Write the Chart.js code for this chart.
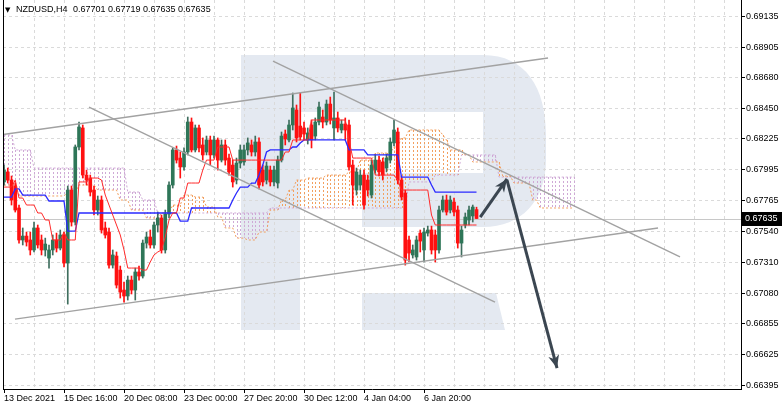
<!DOCTYPE html>
<html>
<head>
<meta charset="utf-8">
<title>NZDUSD H4</title>
<script src="https://cdn.jsdelivr.net/npm/chart.js@4.4.1/dist/chart.umd.min.js"></script>
<style>
  html, body { margin: 0; padding: 0; background: #fff; }
  #chart { display: block; }
</style>
</head>
<body>
<canvas id="chart" width="782" height="408"></canvas>
<script>
const symbolTitle = "NZDUSD,H4";
const lastBarText = ["0.67701", "0.67719", "0.67635", "0.67635"];

const timeLabels = ["13 Dec 2021", "15 Dec 16:00", "20 Dec 08:00", "23 Dec 00:00",
  "27 Dec 20:00", "30 Dec 12:00", "4 Jan 04:00", "6 Jan 20:00"];
const priceTicks = [0.69135, 0.68905, 0.68680, 0.68450, 0.68225, 0.67995, 0.67765,
  0.67540, 0.67310, 0.67080, 0.66855, 0.66625, 0.66395];

const opens = [
  0.67906, 0.67980, 0.67920, 0.67876, 0.67713, 0.67476, 0.67505, 0.67476, 0.67402, 0.67565,
  0.67476, 0.67402, 0.67342, 0.67402, 0.67476, 0.67416, 0.67513, 0.67305, 0.67846, 0.67609,
  0.68165, 0.68306, 0.67957, 0.67935, 0.67846, 0.67698, 0.67772, 0.67565, 0.67535, 0.67290,
  0.67357, 0.67253, 0.67105, 0.67061, 0.67179, 0.67105, 0.67239, 0.67209, 0.67453, 0.67498,
  0.67439, 0.67587, 0.67639, 0.67402, 0.67668, 0.67883, 0.68143, 0.68083, 0.68017, 0.68128,
  0.68350, 0.68143, 0.68306, 0.68180, 0.68128, 0.68217, 0.68106, 0.68217, 0.68068, 0.68180,
  0.68083, 0.68031, 0.67920, 0.68046, 0.68054, 0.68143, 0.68180, 0.68128, 0.68202, 0.67994,
  0.67920, 0.67994, 0.67906, 0.67898, 0.68068, 0.68261, 0.68217, 0.68328, 0.68439, 0.68320,
  0.68306, 0.68217, 0.68328, 0.68246, 0.68350, 0.68387, 0.68350, 0.68483, 0.68306, 0.68380,
  0.68291, 0.68335, 0.68328, 0.68031, 0.67846, 0.67883, 0.67957, 0.67920, 0.67809, 0.67994,
  0.68068, 0.68054, 0.68009, 0.68068, 0.68195, 0.68276, 0.67920, 0.67824, 0.67476, 0.67365,
  0.67350, 0.67527, 0.67402, 0.67527, 0.67550, 0.67513, 0.67402, 0.67698, 0.67772, 0.67698,
  0.67757, 0.67698, 0.67453, 0.67587, 0.67624, 0.67654, 0.67701];
const highs = [
  0.68031, 0.68009, 0.67950, 0.67898, 0.67735, 0.67565, 0.67535, 0.67535, 0.67609, 0.67587,
  0.67513, 0.67490, 0.67439, 0.67513, 0.67527, 0.67550, 0.67535, 0.67876, 0.67876, 0.68180,
  0.68350, 0.68328, 0.67994, 0.67957, 0.67876, 0.67802, 0.67802, 0.67609, 0.67565, 0.67402,
  0.67387, 0.67283, 0.67164, 0.67209, 0.67209, 0.67268, 0.67283, 0.67476, 0.67535, 0.67550,
  0.67609, 0.67683, 0.67661, 0.67698, 0.67906, 0.68158, 0.68172, 0.68128, 0.68158, 0.68387,
  0.68380, 0.68328, 0.68328, 0.68232, 0.68246, 0.68246, 0.68246, 0.68232, 0.68217, 0.68217,
  0.68113, 0.68068, 0.68083, 0.68180, 0.68180, 0.68232, 0.68217, 0.68246, 0.68232, 0.68031,
  0.68054, 0.68024, 0.68024, 0.68098, 0.68276, 0.68291, 0.68365, 0.68565, 0.68476, 0.68565,
  0.68350, 0.68306, 0.68365, 0.68380, 0.68498, 0.68439, 0.68513, 0.68535, 0.68572, 0.68424,
  0.68365, 0.68380, 0.68365, 0.68068, 0.68009, 0.67994, 0.67994, 0.67957, 0.68068, 0.68106,
  0.68098, 0.68083, 0.68113, 0.68232, 0.68365, 0.68306, 0.67950, 0.67846, 0.67505, 0.67439,
  0.67505, 0.67550, 0.67565, 0.67579, 0.67579, 0.67550, 0.67728, 0.67802, 0.67809, 0.67802,
  0.67787, 0.67728, 0.67579, 0.67676, 0.67728, 0.67735, 0.67719];
const lows = [
  0.67883, 0.67898, 0.67735, 0.67683, 0.67453, 0.67439, 0.67431, 0.67365, 0.67387, 0.67416,
  0.67365, 0.67357, 0.67268, 0.67365, 0.67387, 0.67402, 0.67276, 0.67001, 0.67579, 0.67587,
  0.68143, 0.67935, 0.67883, 0.67802, 0.67661, 0.67661, 0.67527, 0.67490, 0.67268, 0.67268,
  0.67120, 0.67046, 0.67016, 0.67031, 0.67076, 0.67031, 0.67179, 0.67194, 0.67416, 0.67416,
  0.67416, 0.67535, 0.67379, 0.67379, 0.67639, 0.67861, 0.68046, 0.67935, 0.67994, 0.68106,
  0.68128, 0.68128, 0.68128, 0.68068, 0.68106, 0.68031, 0.68083, 0.67994, 0.68054, 0.68031,
  0.67957, 0.67868, 0.67891, 0.68009, 0.68031, 0.68106, 0.68098, 0.68098, 0.67854, 0.67876,
  0.67891, 0.67876, 0.67876, 0.67861, 0.68054, 0.68180, 0.68202, 0.68291, 0.68202, 0.68217,
  0.68217, 0.68187, 0.68158, 0.68217, 0.68328, 0.68306, 0.68328, 0.68335, 0.68217, 0.68276,
  0.68269, 0.68217, 0.67994, 0.67735, 0.67809, 0.67846, 0.67705, 0.67802, 0.67787, 0.67972,
  0.67950, 0.67920, 0.67980, 0.68046, 0.68172, 0.67891, 0.67772, 0.67290, 0.67313, 0.67342,
  0.67327, 0.67387, 0.67313, 0.67505, 0.67372, 0.67313, 0.67379, 0.67683, 0.67661, 0.67676,
  0.67654, 0.67416, 0.67350, 0.67565, 0.67587, 0.67609, 0.67635];
const closes = [
  0.67994, 0.67920, 0.67772, 0.67698, 0.67476, 0.67505, 0.67461, 0.67402, 0.67565, 0.67439,
  0.67402, 0.67446, 0.67402, 0.67476, 0.67416, 0.67513, 0.67305, 0.67846, 0.67609, 0.68165,
  0.68313, 0.67957, 0.67920, 0.67831, 0.67698, 0.67772, 0.67550, 0.67513, 0.67290, 0.67365,
  0.67142, 0.67090, 0.67061, 0.67179, 0.67105, 0.67239, 0.67209, 0.67453, 0.67498, 0.67439,
  0.67587, 0.67639, 0.67402, 0.67668, 0.67883, 0.68143, 0.68068, 0.68017, 0.68128, 0.68350,
  0.68143, 0.68306, 0.68158, 0.68106, 0.68217, 0.68106, 0.68217, 0.68068, 0.68180, 0.68068,
  0.67980, 0.67906, 0.68046, 0.68143, 0.68143, 0.68195, 0.68128, 0.68202, 0.67883, 0.67906,
  0.68024, 0.67906, 0.67994, 0.68068, 0.68246, 0.68224, 0.68328, 0.68454, 0.68232, 0.68239,
  0.68261, 0.68269, 0.68217, 0.68350, 0.68461, 0.68350, 0.68483, 0.68365, 0.68380, 0.68306,
  0.68335, 0.68291, 0.68017, 0.67883, 0.67980, 0.67957, 0.67735, 0.67846, 0.68031, 0.68068,
  0.67980, 0.67957, 0.68083, 0.68202, 0.68291, 0.67920, 0.67794, 0.67327, 0.67379, 0.67402,
  0.67476, 0.67468, 0.67535, 0.67550, 0.67402, 0.67402, 0.67698, 0.67772, 0.67683, 0.67772,
  0.67683, 0.67453, 0.67550, 0.67646, 0.67698, 0.67720, 0.67635];

const tenkan = [
  0.67868, 0.67868, 0.67868, 0.67920, 0.67787, 0.67787, 0.67735, 0.67735, 0.67735, 0.67676,
  0.67676, 0.67624, 0.67624, 0.67476, 0.67476, 0.67476, 0.67535, 0.67476, 0.67476, 0.67476,
  0.67906, 0.67906, 0.67906, 0.67935, 0.67935, 0.67935, 0.67920, 0.67809, 0.67735, 0.67661,
  0.67587, 0.67513, 0.67402, 0.67268, 0.67268, 0.67268, 0.67268, 0.67253, 0.67253, 0.67313,
  0.67365, 0.67387, 0.67402, 0.67498, 0.67624, 0.67676, 0.67676, 0.67787, 0.67787, 0.67898,
  0.67898, 0.67898, 0.67898, 0.67994, 0.68068, 0.68068, 0.68068, 0.68165, 0.68165, 0.68165,
  0.68165, 0.68068, 0.68068, 0.68068, 0.68068, 0.68068, 0.68068, 0.68068, 0.68068, 0.68068,
  0.68068, 0.68068, 0.68068, 0.68068, 0.68068, 0.68128, 0.68128, 0.68217, 0.68217, 0.68217,
  0.68217, 0.68217, 0.68365, 0.68365, 0.68365, 0.68365, 0.68365, 0.68365, 0.68365, 0.68365,
  0.68365, 0.68365, 0.68217, 0.68083, 0.68083, 0.68083, 0.68083, 0.68083, 0.68083, 0.67957,
  0.67957, 0.67957, 0.67957, 0.67957, 0.67957, 0.67920, 0.67846, 0.67846, 0.67846, 0.67846,
  0.67846, 0.67846, 0.67846, 0.67846, 0.67661, 0.67587, 0.67587, 0.67587, 0.67587, 0.67587,
  0.67587, 0.67587, 0.67587, 0.67587, 0.67587, 0.67587, 0.67587];
const kijun = [
  0.67794, 0.67794, 0.67794, 0.67854, 0.67854, 0.67809, 0.67809, 0.67809, 0.67809, 0.67809,
  0.67809, 0.67809, 0.67765, 0.67765, 0.67765, 0.67765, 0.67765, 0.67542, 0.67542, 0.67542,
  0.67676, 0.67676, 0.67676, 0.67676, 0.67676, 0.67676, 0.67676, 0.67676, 0.67676, 0.67676,
  0.67676, 0.67676, 0.67676, 0.67676, 0.67676, 0.67676, 0.67676, 0.67676, 0.67676, 0.67676,
  0.67676, 0.67676, 0.67676, 0.67676, 0.67676, 0.67676, 0.67676, 0.67616, 0.67616, 0.67616,
  0.67713, 0.67713, 0.67713, 0.67713, 0.67713, 0.67713, 0.67713, 0.67713, 0.67713, 0.67713,
  0.67713, 0.67772, 0.67824, 0.67868, 0.67868, 0.67868, 0.67898, 0.67898, 0.67957, 0.68031,
  0.68128, 0.68143, 0.68143, 0.68143, 0.68143, 0.68143, 0.68143, 0.68165, 0.68165, 0.68195,
  0.68217, 0.68217, 0.68217, 0.68217, 0.68217, 0.68217, 0.68217, 0.68217, 0.68217, 0.68217,
  0.68217, 0.68217, 0.68143, 0.68143, 0.68143, 0.68143, 0.68143, 0.68106, 0.68106, 0.68106,
  0.68106, 0.68106, 0.68106, 0.68106, 0.68106, 0.68106, 0.67942, 0.67942, 0.67942, 0.67942,
  0.67942, 0.67942, 0.67942, 0.67942, 0.67883, 0.67831, 0.67831, 0.67831, 0.67831, 0.67831,
  0.67831, 0.67831, 0.67831, 0.67831, 0.67831, 0.67831, 0.67831];
// cloud runs 26 bars past the last candle
const senkouA = [
  0.67883, 0.67883, 0.67883, 0.67883, 0.67802, 0.67802, 0.67802, 0.67802, 0.67802, 0.67802,
  0.67802, 0.67802, 0.67802, 0.67802, 0.67802, 0.67802, 0.67802, 0.67831, 0.67831, 0.67831,
  0.67883, 0.67883, 0.67883, 0.67883, 0.67883, 0.67846, 0.67846, 0.67846, 0.67846, 0.67846,
  0.67846, 0.67772, 0.67772, 0.67772, 0.67698, 0.67698, 0.67698, 0.67698, 0.67639, 0.67639,
  0.67639, 0.67639, 0.67676, 0.67676, 0.67676, 0.67735, 0.67735, 0.67735, 0.67809, 0.67809,
  0.67809, 0.67794, 0.67794, 0.67794, 0.67720, 0.67720, 0.67720, 0.67646, 0.67646, 0.67565,
  0.67565, 0.67565, 0.67490, 0.67490, 0.67490, 0.67476, 0.67476, 0.67476, 0.67535, 0.67535,
  0.67535, 0.67698, 0.67698, 0.67698, 0.67772, 0.67772, 0.67846, 0.67846, 0.67920, 0.67920,
  0.67920, 0.67935, 0.67935, 0.67935, 0.67935, 0.67935, 0.67957, 0.67957, 0.67957, 0.67957,
  0.67957, 0.67957, 0.67980, 0.67980, 0.67980, 0.68068, 0.68068, 0.68068, 0.68068, 0.68120,
  0.68120, 0.68120, 0.68120, 0.68120, 0.68165, 0.68165, 0.68232, 0.68232, 0.68291, 0.68291,
  0.68291, 0.68291, 0.68291, 0.68291, 0.68291, 0.68291, 0.68291, 0.68254, 0.68217, 0.68143,
  0.68143, 0.68143, 0.68143, 0.68106, 0.68106, 0.68054, 0.68054, 0.68054, 0.68054, 0.68054,
  0.68054, 0.68054, 0.68054, 0.67950, 0.67950, 0.67950, 0.67898, 0.67898, 0.67898, 0.67898,
  0.67898, 0.67772, 0.67772, 0.67713, 0.67713, 0.67713, 0.67713, 0.67713, 0.67713, 0.67713,
  0.67713, 0.67713, 0.67713];
const senkouB = [
  0.68254, 0.68254, 0.68254, 0.68143, 0.68143, 0.68143, 0.68143, 0.68143, 0.68009, 0.68009,
  0.68009, 0.68009, 0.68009, 0.68009, 0.68009, 0.68009, 0.68009, 0.68009, 0.68009, 0.68009,
  0.68009, 0.68009, 0.68009, 0.68009, 0.68009, 0.68009, 0.68009, 0.68009, 0.68009, 0.68009,
  0.68009, 0.68009, 0.68009, 0.67831, 0.67831, 0.67831, 0.67831, 0.67772, 0.67772, 0.67772,
  0.67772, 0.67676, 0.67676, 0.67676, 0.67676, 0.67676, 0.67676, 0.67676, 0.67676, 0.67676,
  0.67676, 0.67676, 0.67676, 0.67676, 0.67676, 0.67676, 0.67676, 0.67676, 0.67676, 0.67676,
  0.67676, 0.67676, 0.67676, 0.67676, 0.67676, 0.67676, 0.67676, 0.67676, 0.67676, 0.67676,
  0.67676, 0.67713, 0.67713, 0.67713, 0.67713, 0.67713, 0.67713, 0.67713, 0.67713, 0.67713,
  0.67713, 0.67713, 0.67713, 0.67713, 0.67713, 0.67713, 0.67713, 0.67713, 0.67713, 0.67713,
  0.67713, 0.67713, 0.67713, 0.67713, 0.67713, 0.67713, 0.67713, 0.67713, 0.67713, 0.67713,
  0.67713, 0.67713, 0.67713, 0.67713, 0.67713, 0.67713, 0.67713, 0.67713, 0.67906, 0.67906,
  0.67906, 0.67906, 0.67906, 0.67906, 0.67906, 0.67957, 0.67957, 0.67957, 0.67957, 0.67957,
  0.67957, 0.67957, 0.68106, 0.68106, 0.68106, 0.68106, 0.68106, 0.68106, 0.68106, 0.68106,
  0.68106, 0.68106, 0.67942, 0.67942, 0.67942, 0.67942, 0.67942, 0.67942, 0.67942, 0.67942,
  0.67942, 0.67942, 0.67942, 0.67942, 0.67942, 0.67942, 0.67942, 0.67942, 0.67942, 0.67942,
  0.67942, 0.67942, 0.67942];

// hand drawn objects: [bar, price] end points
const trendLines = [
  [[-0.27, 0.68257], [145.07, 0.68824]],
  [[2.93, 0.66890], [174.4, 0.67565]],
  [[22.67, 0.68461], [130.93, 0.67016]],
  [[71.73, 0.68802], [180.27, 0.67350]]
];
const arrowUp = [[127.0, 0.67646], [134.13, 0.67928]];
const arrowDown = [[134.13, 0.67920], [147.47, 0.66527]];

const xMin = -0.27;
const xMax = 196.53;
const yMin = 0.66372;
const yMax = 0.69254;

const canvas = document.getElementById("chart");

Chart.defaults.font.family = "'Liberation Sans', Arial, sans-serif";
Chart.defaults.font.size = 9;
Chart.defaults.color = "#000";

const bullBody = "#2e7658";
const bullWick = "#3f6e5e";
const bearBody = "#ff1010";
const cloudUpColor = "#f2a060";
const cloudDownColor = "#cfa9d6";
const isBull = closes.map((c, i) => c >= opens[i]);

const logoPlugin = {
  id: "logo",
  beforeDraw(chart) {
    const c = chart.ctx;
    c.save();
    c.fillStyle = "#fff";
    c.fillRect(0, 0, chart.width, chart.height);
    c.fillStyle = "#e4e9f1";
    c.fillRect(241, 55, 59, 275);
    c.beginPath();
    c.moveTo(300, 55);
    c.lineTo(483, 55);
    c.bezierCurveTo(526, 55, 546, 88, 546, 135);
    c.lineTo(546, 160);
    c.bezierCurveTo(546, 200, 522, 227, 483, 227);
    c.lineTo(362, 227);
    c.lineTo(362, 173);
    c.lineTo(483, 173);
    c.lineTo(483, 112);
    c.lineTo(300, 112);
    c.closePath();
    c.fill();
    c.beginPath();
    c.moveTo(362, 293);
    c.lineTo(496, 293);
    c.lineTo(505, 330);
    c.lineTo(362, 330);
    c.closePath();
    c.fill();
    c.restore();
  }
};

// cloud: one dotted vertical stroke per bar between span A and span B
const cloudPlugin = {
  id: "cloud",
  beforeDatasetsDraw(chart) {
    const { ctx: c, chartArea, scales: { x, y } } = chart;
    c.save();
    c.beginPath();
    c.rect(chartArea.left, chartArea.top, chartArea.width, chartArea.height);
    c.clip();
    c.lineWidth = 1;
    c.setLineDash([2, 2]);
    senkouA.forEach((a, i) => {
      const b = senkouB[i];
      const px = Math.round(x.getPixelForValue(i)) + 0.5;
      const ya = Math.round(y.getPixelForValue(a));
      const yb = Math.round(y.getPixelForValue(b));
      if (ya === yb) return;
      c.strokeStyle = a > b ? cloudUpColor : cloudDownColor;
      c.beginPath();
      c.moveTo(px, Math.min(ya, yb));
      c.lineTo(px, Math.max(ya, yb));
      c.stroke();
    });
    c.restore();

    const py = Math.round(y.getPixelForValue(closes[closes.length - 1])) + 0.5;
    c.save();
    c.strokeStyle = "#c8c8c8";
    c.lineWidth = 1;
    c.beginPath();
    c.moveTo(chartArea.left, py);
    c.lineTo(chartArea.right, py);
    c.stroke();
    c.restore();
  }
};

const overlayPlugin = {
  id: "overlay",
  afterDatasetsDraw(chart) {
    const { ctx: c, scales: { x, y } } = chart;
    c.save();
    c.fillStyle = "#3b4651";
    [arrowUp, arrowDown].forEach((a) => {
      drawHead(c, x.getPixelForValue(a[0][0]), y.getPixelForValue(a[0][1]),
        x.getPixelForValue(a[1][0]), y.getPixelForValue(a[1][1]));
    });
    c.restore();
  },
  afterDraw(chart) {
    const { ctx: c, chartArea, scales: { y } } = chart;
    c.save();
    c.strokeStyle = "#000";
    c.lineWidth = 1;
    c.beginPath();
    c.moveTo(chartArea.left + 0.5, chartArea.top);
    c.lineTo(chartArea.left + 0.5, chartArea.bottom);
    c.stroke();

    const py = Math.round(y.getPixelForValue(closes[closes.length - 1]));
    c.fillStyle = "#000";
    c.fillRect(chartArea.right + 1, py - 7, chart.width - chartArea.right - 1, 14);
    c.fillStyle = "#fff";
    c.font = "9px 'Liberation Sans', Arial, sans-serif";
    c.textBaseline = "middle";
    c.fillText(closes[closes.length - 1].toFixed(5), chartArea.right + 4, py);

    c.fillStyle = "#000";
    c.font = "7px 'DejaVu Sans', sans-serif";
    c.fillText("\u25BC", 5, 10);
    c.font = "9px 'Liberation Sans', Arial, sans-serif";
    c.fillText(symbolTitle, 16, 10);
    c.fillText(lastBarText.join(" "), 73, 10);
    c.restore();
  }
};

function drawHead(c, x0, y0, x1, y1) {
  const a = Math.atan2(y1 - y0, x1 - x0);
  const len = 13;
  const half = 5.5;
  const cos = Math.cos(a);
  const sin = Math.sin(a);
  c.beginPath();
  c.moveTo(x1, y1);
  c.lineTo(x1 - len * cos + half * sin, y1 - len * sin - half * cos);
  c.lineTo(x1 - len * 0.7 * cos, y1 - len * 0.7 * sin);
  c.lineTo(x1 - len * cos - half * sin, y1 - len * sin + half * cos);
  c.closePath();
  c.fill();
}

function lineSet(points, color, width, order, extra) {
  return Object.assign({
    type: "line",
    data: points,
    borderColor: color,
    borderWidth: width,
    pointRadius: 0,
    pointHoverRadius: 0,
    tension: 0,
    fill: false,
    order
  }, extra || {});
}

const toPoints = (arr) => arr.map((v, i) => ({ x: i, y: v }));
const pairPoints = (pair) => pair.map(([bx, p]) => ({ x: bx, y: p }));

const datasets = [
  lineSet(toPoints(senkouB), cloudDownColor, 1, 10, { borderDash: [2, 2] }),
  lineSet(toPoints(senkouA), cloudUpColor, 1, 9, { borderDash: [2, 2] }),
  {
    type: "bar",
    data: opens.map((o, i) => ({ x: i, y: [lows[i], highs[i]] })),
    backgroundColor: isBull.map((b) => (b ? bullWick : bearBody)),
    barThickness: 1,
    grouped: false,
    borderWidth: 0,
    order: 8
  },
  {
    type: "bar",
    data: opens.map((o, i) => ({ x: i, y: [o, closes[i]] })),
    backgroundColor: isBull.map((b) => (b ? bullBody : bearBody)),
    barThickness: 3,
    grouped: false,
    borderWidth: 0,
    minBarLength: 1,
    order: 7
  },
  lineSet(toPoints(kijun), "#2a2aff", 1.3, 5),
  lineSet(toPoints(tenkan), "#ff2a2a", 1, 4),
  ...trendLines.map((t) => lineSet(pairPoints(t), "#a2a2a2", 1.4, 3)),
  lineSet(pairPoints(arrowUp), "#3b4651", 3, 2),
  lineSet(pairPoints(arrowDown), "#3b4651", 3, 2)
];

new Chart(canvas, {
  type: "line",
  data: { datasets },
  options: {
    responsive: false,
    devicePixelRatio: 1,
    animation: false,
    events: [],
    layout: { padding: { left: 3, top: 0, right: 0, bottom: 0 } },
    plugins: {
      legend: { display: false },
      tooltip: { enabled: false },
      title: { display: false }
    },
    scales: {
      x: {
        type: "linear",
        min: xMin,
        max: xMax,
        offset: false,
        afterBuildTicks: (s) => {
          const t = [];
          for (let v = 0; v <= 192; v += 8) t.push({ value: v });
          s.ticks = t;
        },
        afterFit: (s) => {
          s.height = 19;
          s.paddingLeft = 0;
          s.paddingRight = 0;
        },
        ticks: {
          autoSkip: false,
          maxRotation: 0,
          minRotation: 0,
          align: "start",
          padding: 0,
          callback: (v) => (v % 16 === 0 && v / 16 < timeLabels.length ? timeLabels[v / 16] : "")
        },
        grid: {
          offset: false,
          color: (c) => (c.tick && c.tick.value === 0 ? "rgba(0,0,0,0)" : "#dadada"),
          tickLength: 4,
          tickColor: (c) => (c.tick && c.tick.value % 16 === 0 && c.tick.value / 16 < timeLabels.length ? "#000" : "rgba(0,0,0,0)"),
          tickBorderDash: []
        },
        border: { color: "#000", dash: [3, 3] }
      },
      y: {
        position: "right",
        min: yMin,
        max: yMax,
        afterBuildTicks: (s) => {
          s.ticks = priceTicks.map((v) => ({ value: v }));
        },
        afterFit: (s) => {
          s.width = 41;
          s.paddingTop = 0;
          s.paddingBottom = 0;
        },
        ticks: {
          padding: 1,
          callback: (v) => v.toFixed(5)
        },
        grid: {
          color: "#dadada",
          tickLength: 4,
          tickColor: "#000",
          tickBorderDash: []
        },
        border: { color: "#000", dash: [3, 3] }
      }
    }
  },
  plugins: [logoPlugin, cloudPlugin, overlayPlugin]
});
</script>
</body>
</html>
